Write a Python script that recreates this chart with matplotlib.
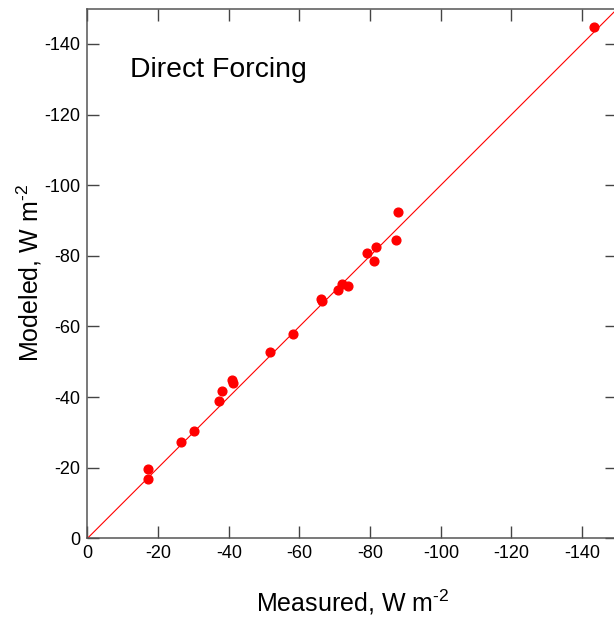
import matplotlib
matplotlib.use("Agg")
import matplotlib.pyplot as plt

# measured vs modeled direct forcing, W m-2
measured = [-17.1, -17.1, -26.5, -30.2, -37.3, -38.0, -40.9, -41.3, -51.7, -58.2,
            -66.2, -66.4, -70.9, -72.0, -73.6, -79.0, -81.6, -81.2, -87.2, -88.0,
            -143.4]
modeled = [-19.6, -16.8, -27.2, -30.5, -38.8, -41.7, -44.7, -44.1, -52.7, -57.9,
           -67.7, -67.1, -70.3, -72.0, -71.5, -80.7, -82.4, -78.6, -84.6, -92.4,
           -144.7]
one_to_one = [0, -160]
ticks = [0, -20, -40, -60, -80, -100, -120, -140]

plt.rcParams['font.family'] = ['Liberation Sans', 'DejaVu Sans']
plt.rcParams['mathtext.fontset'] = 'custom'
plt.rcParams['mathtext.rm'] = 'Liberation Sans'

fig = plt.figure(figsize=(6.14, 6.21), dpi=100)
ax = fig.add_axes([0.1425, 0.1332, 0.8632, 0.853])

ax.plot(one_to_one, one_to_one, color='red', lw=0.8, zorder=2)
ax.plot(measured, modeled, 'o', color='red', ms=6.3, mec='red', zorder=3)

ax.set_xlim(0, -150)
ax.set_ylim(0, -150)
ax.set_xticks(ticks)
ax.set_yticks(ticks)
ax.set_xticklabels([str(t) for t in ticks])
ax.set_yticklabels([str(t) for t in ticks])
ax.tick_params(direction='in', length=8.6, width=1.0, color='#444444',
               labelsize=13, top=True, right=True, pad=5)

for sp in ax.spines.values():
    sp.set_color('#555555')
    sp.set_linewidth(1.1)

unit = r'W m$^{\mathrm{\text{-}2}}$'
ax.set_xlabel('Measured, ' + unit, fontsize=18, labelpad=18)
ax.set_ylabel('Modeled, ' + unit, fontsize=18, labelpad=0)
ax.text(-12.0, -130.6, 'Direct Forcing', fontsize=20.4, va='baseline', ha='left')

fig.savefig('out.png', dpi=100)
